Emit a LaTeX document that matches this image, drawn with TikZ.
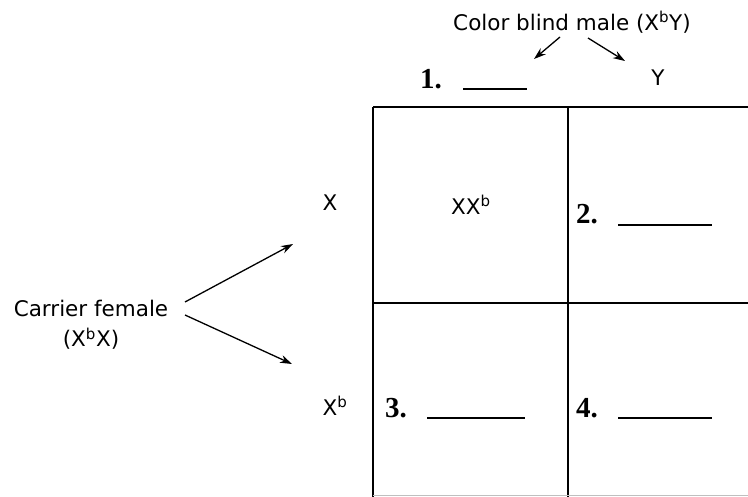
\documentclass[tikz,border=0pt]{standalone}
\usepackage{fontspec}
\setmainfont{DejaVu Sans}
\newfontfamily\numfont{Liberation Serif}
\usetikzlibrary{arrows.meta}
\tikzset{
  lbl/.style={inner sep=0pt, font=\fontsize{21.5}{30}\selectfont},
  num/.style={inner sep=0pt, anchor=west, font=\numfont\bfseries\fontsize{29}{30}\selectfont},
  gridline/.style={line width=1.8pt},
  vline/.style={line width=1.4pt},
  blank/.style={line width=1.3pt},
  arr/.style={line width=1.3pt, -{Stealth[length=12pt,width=8pt]}}
}
\begin{document}
\begin{tikzpicture}[x=1pt,y=-1pt]
\useasboundingbox (0,0) rectangle (748,497);
% grid
\coordinate (gtl) at (373,107);
\coordinate (gtr) at (748,107);
\coordinate (gml) at (373,303);
\coordinate (gmr) at (748,303);
\coordinate (gbl) at (373,497);
\coordinate (gtm) at (568,107);
\coordinate (gbm) at (568,497);
\coordinate (gbr) at (748,495);
\coordinate (gbl2) at (373,495);
\draw[gridline] (gtl) -- (gtr);
\draw[gridline] (gml) -- (gmr);
\draw[vline] (gtl) -- (gbl);
\draw[vline] (gtm) -- (gbm);
\draw[line width=1pt, black!25] (gbl2) -- (gbr);
% title
\node[lbl] (title) at (572,22) {Color blind male (X\textsuperscript{b}Y)};
\coordinate (a1s) at (560,37);
\coordinate (a1e) at (534,59);
\coordinate (a2s) at (588,38);
\coordinate (a2e) at (625,61);
\draw[arr] (a1s) -- (a1e);
\draw[arr] (a2s) -- (a2e);
% column headers
\node[num] (n1) at (420,79) {1.};
\coordinate (u1s) at (463,89);
\coordinate (u1e) at (527,89);
\draw[blank] (u1s) -- (u1e);
\node[lbl] (colY) at (658,78) {Y};
% row headers
\node[lbl] (rowX) at (330,203) {X};
\node[lbl] (rowXb) at (335,406) {X\textsuperscript{b}};
% female
\node[lbl, align=center] (fem) at (91,325) {Carrier female\\(X\textsuperscript{b}X)};
\coordinate (f1s) at (185,302);
\coordinate (f1e) at (293,244);
\coordinate (f2s) at (185,315);
\coordinate (f2e) at (292,364);
\draw[arr] (f1s) -- (f1e);
\draw[arr] (f2s) -- (f2e);
% cells
\node[lbl] (c11) at (471,205) {XX\textsuperscript{b}};
\node[num] (n2) at (576,214) {2.};
\coordinate (u2s) at (618,225);
\coordinate (u2e) at (712,225);
\draw[blank] (u2s) -- (u2e);
\node[num] (n3) at (385,408) {3.};
\coordinate (u3s) at (427,418);
\coordinate (u3e) at (525,418);
\draw[blank] (u3s) -- (u3e);
\node[num] (n4) at (576,408) {4.};
\coordinate (u4s) at (618,418);
\coordinate (u4e) at (712,418);
\draw[blank] (u4s) -- (u4e);
\end{tikzpicture}
\end{document}
